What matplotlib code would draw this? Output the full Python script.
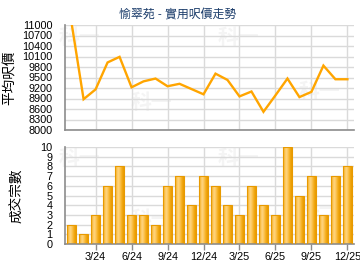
import matplotlib
matplotlib.use("Agg")
import matplotlib.pyplot as plt
import numpy as np
from matplotlib.colors import LinearSegmentedColormap

plt.rcParams['font.family'] = ['Liberation Sans', 'Noto Sans CJK TC', 'DejaVu Sans']

months = ['1/24', '2/24', '3/24', '4/24', '5/24', '6/24', '7/24', '8/24', '9/24', '10/24', '11/24', '12/24',
          '1/25', '2/25', '3/25', '4/25', '5/25', '6/25', '7/25', '8/25', '9/25', '10/25', '11/25', '12/25']
price = [11050, 8880, 9160, 9930, 10090, 9220, 9390, 9470, 9250, 9320, 9170, 9020,
         9610, 9430, 8960, 9100, 8520, 8990, 9470, 8940, 9090, 9840, 9450, 9450]
volume = [2, 1, 3, 6, 8, 3, 3, 2, 6, 7, 4, 7, 6, 4, 3, 6, 4, 3, 10, 5, 7, 3, 7, 8]
tick_labels = ['3/24', '6/24', '9/24', '12/24', '3/25', '6/25', '9/25', '12/25']
price_ticks = list(range(8000, 11001, 300))
vol_ticks = list(range(0, 11))

title = '愉翠苑 - 實用呎價走勢'
ylabel_top = '平均呎價'
ylabel_bot = '成交宗數'
watermark = '科一'

x = np.arange(len(months))
tick_pos = [months.index(t) for t in tick_labels]

fig = plt.figure(figsize=(3.6, 2.7), dpi=100)
ax1 = fig.add_axes([65/360, 1-130/270, 289/360, 105/270])
ax2 = fig.add_axes([65/360, 1-244/270, 289/360, 97/270])

grid_c = '#dadada'
spine_c = '#8c8c8c'
tick_fs = 7.8
wm_c = '#f4f4f4'

for ax in (ax1, ax2):
    ax.set_xlim(-0.55, len(months) - 0.45)
    for s in ('top', 'right'):
        ax.spines[s].set_visible(False)
    for s in ('left', 'bottom'):
        ax.spines[s].set_color(spine_c)
        ax.spines[s].set_linewidth(1.2)
    ax.set_xticks(tick_pos)
    ax.grid(True, color=grid_c, linewidth=1.0)
    ax.set_axisbelow(True)
    ax.tick_params(axis='y', length=0, pad=9, labelsize=tick_fs, colors='#000000')
    ax.set_facecolor('white')
    for (wx, wy) in [(0.05, 0.97), (0.3, 0.35), (0.6, 0.97), (0.88, 0.45)]:
        ax.text(wx, wy, watermark, transform=ax.transAxes, fontsize=15, color=wm_c,
                ha='center', va='top', zorder=0, fontweight='bold')

# top line chart
ax1.plot(x, price, color='#ffa500', linewidth=1.7, solid_joinstyle='miter', zorder=3)
ax1.set_ylim(8000, 11000)
ax1.set_yticks(price_ticks)
ax1.set_yticklabels([str(v) for v in price_ticks])
ax1.tick_params(axis='x', length=0, labelbottom=False)
ax1.set_ylabel(ylabel_top, fontsize=9.8, labelpad=4)

# bottom bar chart with gradient
ax2.set_ylim(0, 10)
ax2.set_yticks(vol_ticks)
ax2.set_yticklabels([str(v) for v in vol_ticks])
ax2.set_xticklabels(tick_labels)
ax2.tick_params(axis='x', length=4, width=1, color=spine_c, labelsize=tick_fs, pad=2)
ax2.set_ylabel(ylabel_bot, fontsize=9.8, labelpad=12)

cmap = LinearSegmentedColormap.from_list('barg', ['#eea000', '#fcc65a', '#ffd580', '#fbc04a', '#f2aa14', '#e99a00'])
grad = np.linspace(0, 1, 64).reshape(1, -1)
bw = 0.72
bars = ax2.bar(x, volume, width=bw, color='none', edgecolor='#e89a00', linewidth=0.8, zorder=3)
for b in bars:
    x0 = b.get_x()
    h = b.get_height()
    im = ax2.imshow(grad, cmap=cmap, aspect='auto', extent=(x0, x0 + bw, 0, h), zorder=2,
                    interpolation='bilinear')
    im.set_clip_path(b)
ax2.set_xlim(-0.55, len(months) - 0.45)
ax2.set_ylim(0, 10)

fig.text(178/360, 1-15/270, title, ha='center', va='center', fontsize=8.6, color='#1c3d6b')

fig.savefig('out.png', dpi=100)
